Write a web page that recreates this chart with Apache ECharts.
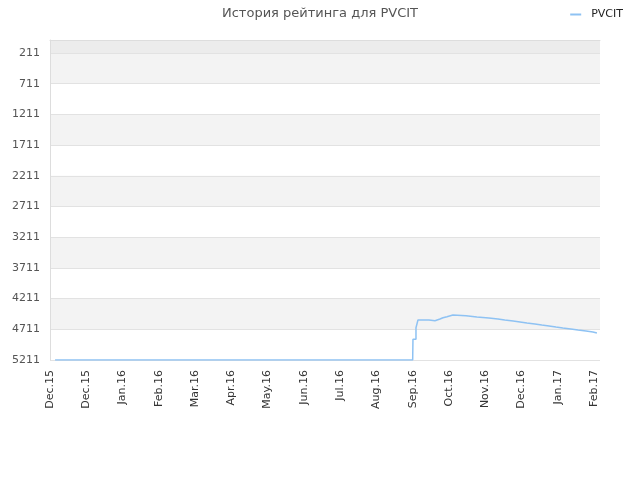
<!DOCTYPE html>
<html>
<head>
<meta charset="utf-8">
<script src="https://cdn.jsdelivr.net/npm/echarts@6/dist/echarts.min.js"></script>
<style>html,body{margin:0;padding:0;background:#fff}#c{width:640px;height:480px}</style>
</head>
<body>
<div id="c"></div>
<script>
const titleText = 'История рейтинга для PVCIT';
const seriesName = 'PVCIT';
const xTickLabels = ['Dec.15','Dec.15','Jan.16','Feb.16','Mar.16','Apr.16','May.16','Jun.16','Jul.16','Aug.16','Sep.16','Oct.16','Nov.16','Dec.16','Jan.17','Feb.17'];
const yTickLabels = [211, 711, 1211, 1711, 2211, 2711, 3211, 3711, 4211, 4711, 5211];
const ratingTop = 0;
// x positions measured in month-tick units (0 = first tick)
const pointPos = [0.14, 10.0, 10.008, 10.091, 10.146, 10.45, 10.615, 10.753, 10.835, 10.946, 11.11, 11.47, 11.77, 12.10, 12.35, 12.54, 12.77, 12.96, 13.15, 13.37, 13.56, 13.76, 13.95, 14.14, 14.36, 14.56, 14.78, 14.97, 15.08];
const pointRating = [5211, 5211, 4874, 4685, 4560, 4571, 4543, 4522, 4506, 4478, 4490, 4511, 4527, 4543, 4560, 4576, 4592, 4608, 4625, 4641, 4657, 4674, 4690, 4706, 4722, 4739, 4755, 4771, 4771];

const data = pointPos.map((p, i) => [p, pointRating[i]]);
const chart = echarts.init(document.getElementById('c'), null, {renderer: 'canvas'});
chart.setOption({
  animation: false,
  backgroundColor: '#fff',
  title: {text: titleText, left: 'center', top: 2, textStyle: {fontSize: 13, fontWeight: 'normal', color: '#555', fontFamily: 'DejaVu Sans'}},
  legend: {right: 12, top: 4, itemWidth: 11, itemHeight: 2, icon: 'rect', textStyle: {fontSize: 11, color: '#222', fontFamily: 'DejaVu Sans', padding: [0, 0, 0, 5]}, data: [seriesName]},
  grid: {left: 50, right: 40, top: 40, bottom: 120},
  xAxis: {
    type: 'value', min: 0, max: 15.165, interval: 1,
    axisLine: {lineStyle: {color: '#ddd'}}, axisTick: {show: false}, splitLine: {show: false},
    axisLabel: {rotate: 90, fontSize: 11, color: '#333', fontFamily: 'DejaVu Sans', margin: 10,
      formatter: v => xTickLabels[Math.round(v)] || '', showMaxLabel: false}
  },
  yAxis: {
    type: 'value', inverse: true, min: ratingTop, max: yTickLabels[yTickLabels.length - 1],
    axisLine: {show: true, lineStyle: {color: '#ddd'}},
    axisTick: {show: false, customValues: [ratingTop].concat(yTickLabels)},
    splitLine: {show: true, lineStyle: {color: '#e2e2e2'}},
    splitArea: {show: true, areaStyle: {color: ['#ececec','#f3f3f3','#ffffff','#f3f3f3','#ffffff','#f3f3f3','#ffffff','#f3f3f3','#ffffff','#f3f3f3','#ffffff']}},
    axisLabel: {fontSize: 11, color: '#555', fontFamily: 'DejaVu Sans', margin: 10, customValues: yTickLabels, formatter: v => String(v)}
  },
  series: [{
    name: seriesName, type: 'line', step: 'end', data: data, symbol: 'none',
    lineStyle: {color: '#8ec2f3', width: 1.5}, itemStyle: {color: '#8ec2f3'}
  }]
});
</script>
</body>
</html>
